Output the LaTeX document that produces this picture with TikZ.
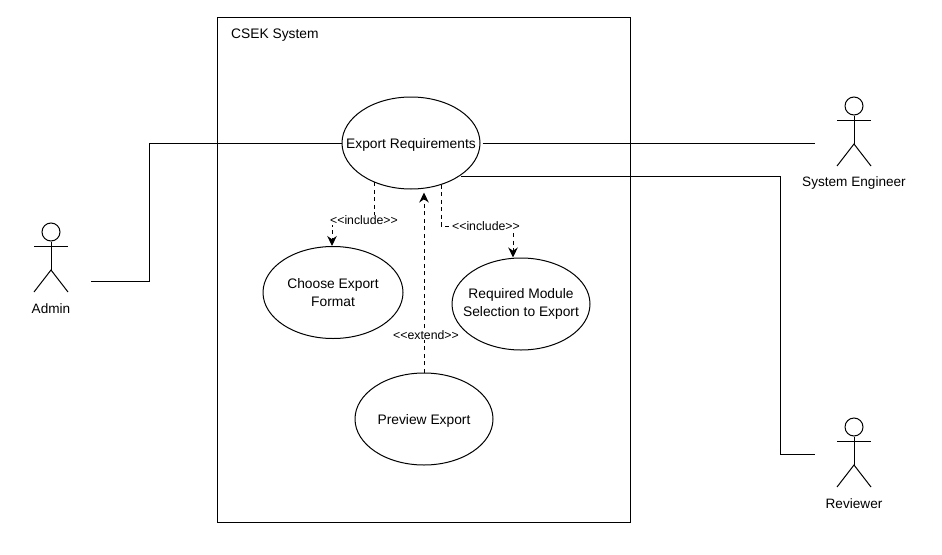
\documentclass[tikz,border=0pt]{standalone}
\usepackage{fontspec}
\setmainfont{Liberation Sans}
\usetikzlibrary{shapes.geometric,arrows.meta,backgrounds}
\tikzset{
  usecase/.style={draw,ellipse,inner sep=-40pt,minimum width=#1,minimum height=92pt,align=center,font=\fontsize{13.8}{18}\selectfont,line width=1pt,execute at begin node={\rule{0pt}{13.5pt}}},
  stereo/.style={fill=white,inner sep=0.5pt,font=\fontsize{12.3}{14}\selectfont},
  assoc/.style={line width=1pt},
  dep/.style={line width=1pt,dash pattern=on 4pt off 3.5pt,-{Stealth[length=10pt,width=9.5pt]}},
  actorlabel/.style={font=\fontsize{13.6}{16}\selectfont,anchor=center},
  actorline/.style={line width=1pt},
  actorhead/.style={draw,circle,minimum size=18pt,inner sep=0pt,line width=1pt}
}
\newcommand{\umlactor}[5]{% name, x, y (head centre), label, label offset
  \node[actorhead] (#1) at (#2,#3) {};
  \coordinate (#1arml) at (#2-17,#3+14);
  \coordinate (#1armr) at (#2+17,#3+14);
  \coordinate (#1hip) at (#2,#3+38);
  \coordinate (#1legl) at (#2-17,#3+60);
  \coordinate (#1legr) at (#2+17,#3+60);
  \draw[actorline] (#1.south) -- (#1hip);
  \draw[actorline] (#1arml) -- (#1armr);
  \draw[actorline] (#1legl) -- (#1hip) -- (#1legr);
  \node[actorlabel] (#1label) at (#2,#3+#5) {#4};
}
\begin{document}
\begin{tikzpicture}[x=1pt,y=-1pt]
\useasboundingbox (0,0) rectangle (942,554);
\begin{scope}[on background layer]
\fill[white] (0,0) rectangle (942,554);
\end{scope}
\node[draw,line width=1pt,minimum width=413pt,minimum height=505pt,inner sep=0pt,anchor=north west] (sys) at (217,17) {};
\node[anchor=west,inner sep=0pt,font=\fontsize{13.8}{16}\selectfont] (systitle) at (231,35) {CSEK System};
\node[usecase=138pt] (exp) at (411,143) {Export Requirements};
\node[usecase=140pt] (choose) at (333,292.5) {Choose Export\\Format};
\node[usecase=138pt] (req) at (521,304) {Required Module\\Selection to Export};
\node[usecase=138pt] (prev) at (424,419) {Preview Export};
\umlactor{admin}{51}{232}{Admin}{77}
\umlactor{eng}{854}{106}{System Engineer}{77}
\umlactor{rev}{854}{427}{Reviewer}{77}
\coordinate (adminport) at (91,281);
\coordinate (engport) at (815,143);
\coordinate (revport) at (815,454);
\coordinate (admincorner) at (149.5,281);
\coordinate (revcorner) at (780,176);
\node[stereo] (inc1) at (364,220) {<{}<include>{}>};
\node[stereo] (inc2) at (486,226) {<{}<include>{}>};
\node[stereo] (ext) at (426,335) {<{}<extend>{}>};
\begin{scope}[on background layer]
\draw[assoc] (adminport) -- (admincorner) |- (exp.west);
\draw[assoc] (exp.east) ++(2,0) -- (engport);
\draw[assoc] (exp.-33 |- revcorner) -- (revcorner) |- (revport);
\draw[dep] (exp.-133) |- (inc1.center) -| ([xshift=-1pt]choose.north);
\draw[dep] (exp.-54) |- (inc2.center) -| ([xshift=-8pt]req.north);
\draw[dep] (prev.north) -- ([yshift=-3pt]prev.north |- exp.south);
\end{scope}
\end{tikzpicture}
\end{document}
